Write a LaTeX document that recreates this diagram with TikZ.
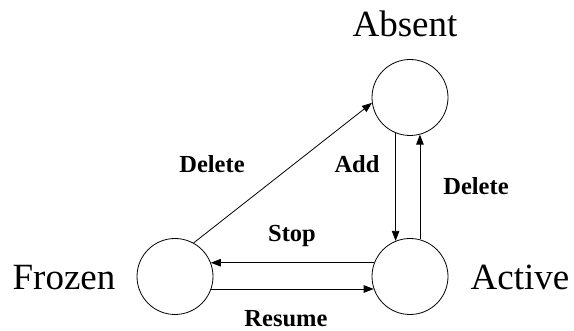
\documentclass[tikz,border=0pt]{standalone}
\usepackage{fontspec}
\setmainfont{Liberation Serif}
\usepackage{tikz}
\usetikzlibrary{arrows}
\usetikzlibrary{arrows.meta}
\usetikzlibrary{positioning}
\tikzset{>={Triangle[length=10pt,width=7.5pt]}}
\tikzstyle{stcirc} = [circle, draw=black, line width=0.8pt, minimum size=76pt, inner sep=0]
\tikzstyle{stlabel} = [draw=none, anchor=base, inner sep=0, font=\fontsize{37}{42}\selectfont]
\tikzstyle{trlabel} = [draw=none, anchor=base, inner sep=0, font=\fontsize{24.5}{28}\selectfont\bfseries]
\tikzstyle{edge} = [->, line width=0.8pt, draw=black]

\begin{document}
\begin{tikzpicture}[x=1pt, y=-1pt]
\useasboundingbox (0,0) rectangle (574,331);
%\node [draw=none] at (287,0) {states};
\node [stcirc] (Absent) at (410, 97.5) {};
\node [stcirc] (Active) at (410, 276.5) {};
\node [stcirc] (Frozen) at (175, 276.5) {};
\node [stlabel] (AbsentL) at (405, 37) {Absent};
\node [stlabel] (FrozenL) at (64, 290) {Frozen};
\node [stlabel] (ActiveL) at (520, 290) {Active};
\node [trlabel] (DelF) at (212, 173) {Delete};
\node [trlabel] (AddL) at (357, 173) {Add};
\node [trlabel] (DelA) at (476, 195) {Delete};
\node [trlabel] (StopL) at (292, 242) {Stop};
\node [trlabel] (ResL) at (286, 327) {Resume};
\draw [edge] (Frozen.61) to (Absent.188);
\draw [edge] (Absent.248) to (Active.112);
\draw [edge] (Active.75) to (Absent.285);
\draw [edge] (Active.159) to (Frozen.21);
\draw [edge] (Frozen.-19) to (Active.199);
\end{tikzpicture}
\end{document}
